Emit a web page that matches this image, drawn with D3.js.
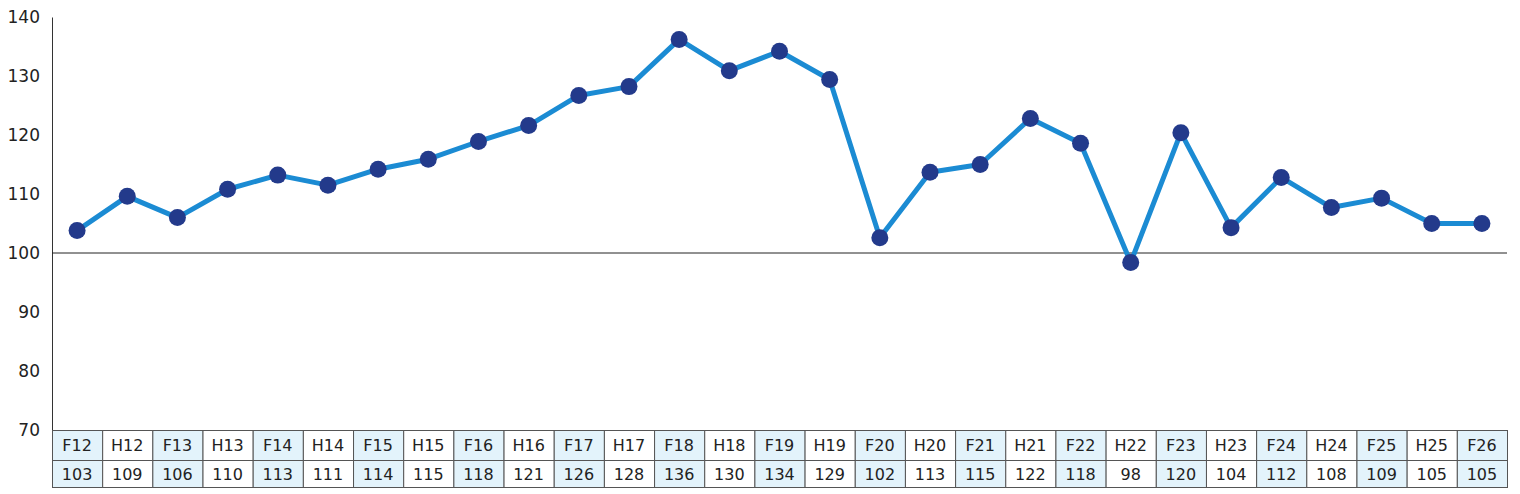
<!DOCTYPE html>
<html><head><meta charset="utf-8">
<script src="https://cdn.jsdelivr.net/npm/d3@7/dist/d3.min.js"></script>
<style>body{margin:0;background:#fff}text{font-family:"DejaVu Sans",Verdana,sans-serif}</style>
</head><body><svg id="c" width="1520" height="494"></svg>
<script>
const categories=["F12","H12","F13","H13","F14","H14","F15","H15","F16","H16","F17","H17","F18","H18","F19","H19","F20","H20","F21","H21","F22","H22","F23","H23","F24","H24","F25","H25","F26"];
const values=[103.8,109.6,106.0,110.8,113.2,111.5,114.2,115.9,118.9,121.6,126.7,128.2,136.2,130.9,134.2,129.4,102.6,113.7,115.0,122.8,118.6,98.4,120.4,104.3,112.8,107.7,109.3,105.0,105.0];
const labels=["103","109","106","110","113","111","114","115","118","121","126","128","136","130","134","129","102","113","115","122","118","98","120","104","112","108","109","105","105"];
const yTicks=[70,80,90,100,110,120,130,140];

const svg=d3.select("#c");
const L=52,R=1507,T=17,B=430;
const x=d3.scaleBand().domain(categories).range([L,R]);
const y=d3.scaleLinear().domain([70,140]).range([B,T]);

svg.append("g").attr("transform",`translate(${L},0)`)
 .call(d3.axisLeft(y).tickValues(yTicks).tickSize(0).tickPadding(12))
 .call(g=>{g.select(".domain").attr("stroke","#333");g.selectAll("text").attr("font-size",17).attr("fill","#222").attr("font-family","DejaVu Sans")});
svg.append("line").attr("x1",L).attr("x2",R).attr("y1",y(100)).attr("y2",y(100)).attr("stroke","#222").attr("stroke-width",1);

// table
const rowH=[[B,460],[460,487]];
categories.forEach((c,i)=>{
  const fill=c[0]==="F"?"#e3f3fb":"#fff";
  rowH.forEach((r,j)=>{
    svg.append("rect").attr("x",x(c)+0.5).attr("y",r[0]+0.5).attr("width",x.bandwidth()).attr("height",r[1]-r[0])
      .attr("fill",fill).attr("stroke","#555").attr("stroke-width",1);
    svg.append("text").attr("x",x(c)+x.bandwidth()/2).attr("y",(r[0]+r[1])/2+6).attr("text-anchor","middle")
      .attr("font-size",16).attr("fill","#222").text(j===0?c:labels[i]);
  });
});

const line=d3.line().x((d,i)=>x(categories[i])+x.bandwidth()/2).y(d=>y(d));
svg.append("path").datum(values).attr("d",line).attr("fill","none").attr("stroke","#1b8bd3").attr("stroke-width",5).attr("stroke-linejoin","round");
svg.selectAll("circle.p").data(values).join("circle").attr("class","p")
 .attr("cx",(d,i)=>x(categories[i])+x.bandwidth()/2).attr("cy",d=>y(d)).attr("r",8.5).attr("fill","#233a8b");
</script></body></html>
